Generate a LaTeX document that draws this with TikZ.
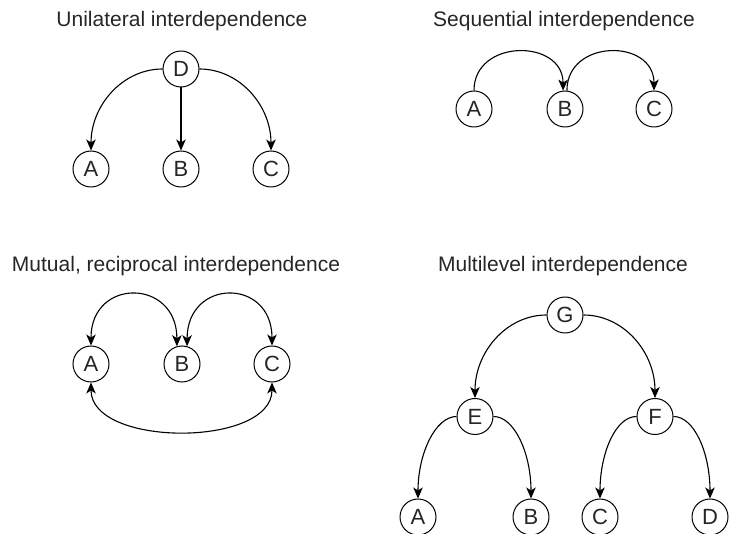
\documentclass[tikz,border=0pt]{standalone}
\usepackage{fontspec}
\setmainfont{Liberation Sans}
\usetikzlibrary{arrows.meta}
\tikzset{
  nd/.style={circle, draw, line width=1pt, minimum size=36pt, inner sep=0pt,
    font=\fontsize{22}{22}\selectfont, text=black!85},
  ttl/.style={anchor=base, inner sep=0pt, font=\fontsize{21}{21}\selectfont, text=black!85},
  tip/.style={},
  arr/.style={line width=1.1pt, -{Stealth[length=11pt,width=9.5pt,inset=3pt]}},
  darr/.style={line width=1.1pt, {Stealth[length=11pt,width=9.5pt,inset=3pt]}-{Stealth[length=11pt,width=9.5pt,inset=3pt]}}
}
\begin{document}
\begin{tikzpicture}[x=1pt, y=-1pt]
\useasboundingbox (0,0) rectangle (729,534);
% titles
\node[ttl] (t1) at (182,26.5) {Unilateral interdependence};
\node[ttl] (t2) at (564,26.5) {Sequential interdependence};
\node[ttl] (t3) at (176,272) {Mutual, reciprocal interdependence};
\node[ttl] (t4) at (563,272) {Multilevel interdependence};
% unilateral
\node[nd] (uD) at (181,69) {D};
\node[nd] (uA) at (91,169) {A};
\node[nd] (uB) at (181,169) {B};
\node[nd] (uC) at (271,169) {C};
\draw[arr] (uD.west) .. controls +(-40,0) and +(0,-45) .. (uA.north);
\draw[arr] (uD) -- (uB);
\draw[arr] (uD.east) .. controls +(40,0) and +(0,-45) .. (uC.north);
% sequential
\node[nd] (sA) at (474,109) {A};
\node[nd] (sB) at (565,109) {B};
\node[nd] (sC) at (654,109) {C};
\draw[arr] (sA.north) .. controls +(0,-52) and +(0,-52) .. (sB.96);
\draw[arr] (sB.84) .. controls +(0,-52) and +(0,-52) .. (sC.north);
% mutual
\node[nd] (mA) at (91,364) {A};
\node[nd] (mB) at (182,364) {B};
\node[nd] (mC) at (272,364) {C};
\draw[darr] (mA.north) .. controls +(0,-68) and +(0,-68) .. (mB.106);
\draw[darr] (mB.74) .. controls +(0,-68) and +(0,-68) .. (mC.north);
\draw[darr] (mA.south) .. controls +(0,65) and +(0,65) .. (mC.south);
% multilevel
\node[nd] (gG) at (565,315) {G};
\node[nd] (gE) at (475,416.5) {E};
\node[nd] (gF) at (655,416.5) {F};
\node[nd] (gA) at (418,517) {A};
\node[nd] (gB) at (531,517) {B};
\node[nd] (gC) at (600,517) {C};
\node[nd] (gD) at (710,517) {D};
\draw[arr] (gG.west) .. controls +(-40,0) and +(0,-46) .. (gE.north);
\draw[arr] (gG.east) .. controls +(40,0) and +(0,-46) .. (gF.north);
\draw[arr] (gE.west) .. controls +(-21,0) and +(0,-45) .. (gA.north);
\draw[arr] (gE.east) .. controls +(21,0) and +(0,-45) .. (gB.north);
\draw[arr] (gF.west) .. controls +(-21,0) and +(0,-45) .. (gC.north);
\draw[arr] (gF.east) .. controls +(21,0) and +(0,-45) .. (gD.north);
\end{tikzpicture}
\end{document}
